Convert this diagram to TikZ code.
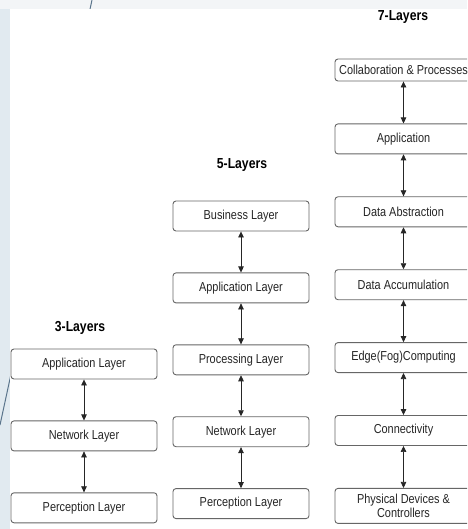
\documentclass[tikz,border=0pt]{standalone}
\usepackage{fontspec}
\setmainfont{Liberation Sans}[FakeStretch=0.84]
\usetikzlibrary{arrows.meta,positioning}
\definecolor{slidestrip}{HTML}{E1EAF0}
\definecolor{slidetop}{HTML}{F3F5F7}
\definecolor{slideline}{HTML}{3E5C78}

\begin{document}
\begin{tikzpicture}[x=1pt, y=-1pt, node distance=41pt, every node/.style={font=\fontsize{13}{14.5}\selectfont}]
  \tikzset{layer/.style={rectangle, draw=black!60, line width=0.9pt, rounded corners=3pt, fill=white, text=black!85, minimum height=30pt, inner sep=1pt, align=center}, head/.style={font=\bfseries\fontsize{14.5}{16}\selectfont}, arr/.style={{Triangle[length=6pt,width=5.5pt]}-{Triangle[length=6pt,width=5.5pt]}, line width=0.7pt, black!85}}
  \useasboundingbox (0,0) rectangle (467,529);
  \clip (0,0) rectangle (467,529);
  % slide background
  \fill[slidetop] (0,0) rectangle (467,529);
  \fill[slidestrip] (0,9) rectangle (10,529);
  \draw[slideline!85, line width=1pt] (92,0) -- (0,425);
  \fill[white] (10,9) rectangle (467,529);
  % 3 layers
  \node[head] (t3) at (80,328) {3-Layers};
  \node[layer, minimum width=146pt] (app3) at (84,364) {Application Layer};
  \node[layer, minimum width=146pt, below=of app3] (net3) {Network Layer};
  \node[layer, minimum width=146pt, below=of net3] (per3) {Perception Layer};
  \draw[arr] (app3) -- (net3);
  \draw[arr] (net3) -- (per3);
  % 5 layers
  \node[head] (t5) at (242,165) {5-Layers};
  \node[layer, minimum width=136pt] (bus5) at (241,216) {Business Layer};
  \node[layer, minimum width=136pt, below=of bus5] (app5) {Application Layer};
  \node[layer, minimum width=136pt, below=of app5] (pro5) {Processing Layer};
  \node[layer, minimum width=136pt, below=of pro5] (net5) {Network Layer};
  \node[layer, minimum width=136pt, below=of net5] (per5) {Perception Layer};
  \draw[arr] (bus5) -- (app5);
  \draw[arr] (app5) -- (pro5);
  \draw[arr] (pro5) -- (net5);
  \draw[arr] (net5) -- (per5);
  % 7 layers
  \node[head] (t7) at (403,17) {7-Layers};
  \node[layer, minimum width=137pt, minimum height=22pt] (col7) at (403.5,70) {Collaboration \& Processes};
  \node[layer, minimum width=137pt, below=42pt of col7] (app7) {Application};
  \node[layer, minimum width=137pt, below=42pt of app7] (abs7) {Data Abstraction};
  \node[layer, minimum width=137pt, below=42pt of abs7] (acc7) {Data Accumulation};
  \node[layer, minimum width=137pt, below=42pt of acc7] (edge7) {Edge(Fog)Computing};
  \node[layer, minimum width=137pt, below=42pt of edge7] (con7) {Connectivity};
  \node[layer, minimum width=137pt, minimum height=35pt, below=42pt of con7] (phy7) {Physical Devices \&\\Controllers};
  \draw[arr] (col7) -- (app7);
  \draw[arr] (app7) -- (abs7);
  \draw[arr] (abs7) -- (acc7);
  \draw[arr] (acc7) -- (edge7);
  \draw[arr] (edge7) -- (con7);
  \draw[arr] (con7) -- (phy7);
\end{tikzpicture}
\end{document}
